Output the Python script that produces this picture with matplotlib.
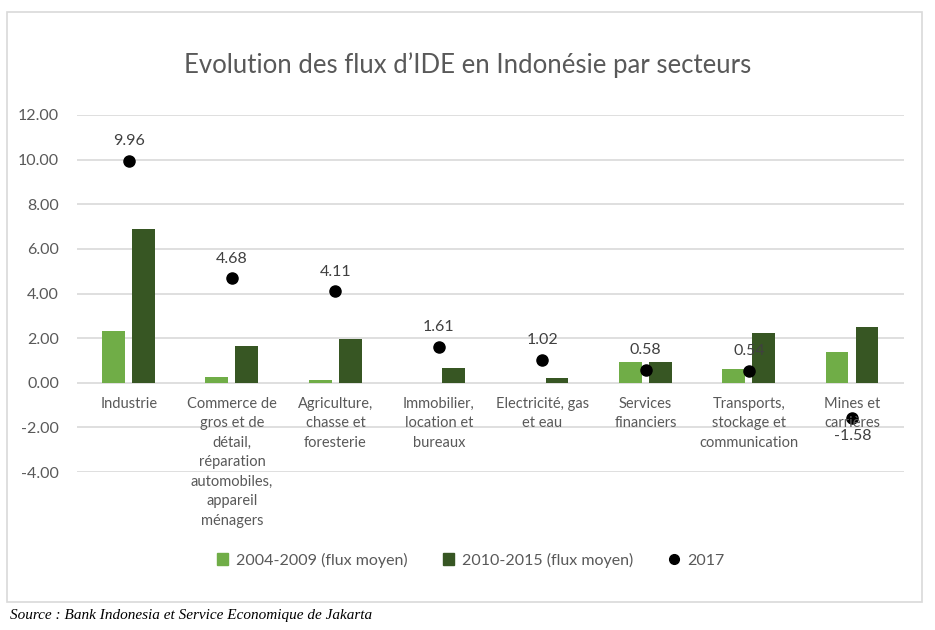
import matplotlib.pyplot as plt
import numpy as np
from matplotlib.lines import Line2D
from matplotlib.patches import Patch, Rectangle

# données
secteurs = ["Industrie",
            "Commerce de\ngros et de\ndétail,\nréparation\nautomobiles,\nappareil\nménagers",
            "Agriculture,\nchasse et\nforesterie",
            "Immobilier,\nlocation et\nbureaux",
            "Electricité, gas\net eau",
            "Services\nfinanciers",
            "Transports,\nstockage et\ncommunication",
            "Mines et\ncarrières"]
flux_2004_2009 = [2.34, 0.25, 0.11, 0.0, 0.0, 0.91, 0.63, 1.39]
flux_2010_2015 = [6.91, 1.65, 1.94, 0.66, 0.21, 0.94, 2.25, 2.52]
flux_2017 = [9.96, 4.68, 4.11, 1.61, 1.02, 0.58, 0.54, -1.58]
yticks = [-4, -2, 0, 2, 4, 6, 8, 10, 12]

clair = "#70AD47"
fonce = "#375623"
gris = "#595959"
police = ["Lato", "DejaVu Sans"]

fig = plt.figure(figsize=(9.35, 6.3), dpi=100)
# cadre du graphique
fig.patches.append(Rectangle((7 / 935, 1 - 602 / 630), 915 / 935, 590 / 630,
                             transform=fig.transFigure, fill=False,
                             edgecolor="#D9D9D9", linewidth=1.2))

ax = fig.add_axes([77 / 935, 1 - 472 / 630, 827 / 935, 357 / 630])
x = np.arange(len(secteurs))
w = 0.22
ax.bar(x - 0.147, flux_2004_2009, w, color=clair, linewidth=0, zorder=2)
ax.bar(x + 0.143, flux_2010_2015, w, color=fonce, linewidth=0, zorder=2)
ax.plot(x, flux_2017, "o", color="black", markersize=8, zorder=3)

for i, v in enumerate(flux_2017):
    if v < 0:
        ax.annotate(f"{v:.2f}", (i, v), xytext=(0, -8), textcoords="offset points",
                    ha="center", va="top", fontsize=11.5, color="#404040", family=police, zorder=4)
    else:
        ax.annotate(f"{v:.2f}", (i, v), xytext=(0, 9), textcoords="offset points",
                    ha="center", va="bottom", fontsize=11.5, color="#404040", family=police, zorder=4)

# étiquettes des secteurs sous la ligne zéro
for i, nom in enumerate(secteurs):
    ax.annotate(nom, (i, 0), xytext=(0, -10), textcoords="offset points",
                ha="center", va="top", fontsize=10.5, color=gris, family=police,
                linespacing=1.5)

ax.set_xlim(-0.5, len(secteurs) - 0.5)
ax.set_ylim(-4, 12)
ax.set_yticks(yticks)
ax.set_yticklabels([f"{t:.2f}" for t in yticks], fontsize=11.5, color=gris, family=police)
ax.grid(axis="y", color="#D9D9D9", linewidth=1.2, zorder=0)
ax.set_axisbelow(True)
ax.set_xticks([])
for s in ["top", "right", "left", "bottom"]:
    ax.spines[s].set_visible(False)
ax.tick_params(length=0)
ax.tick_params(axis="y", pad=13)

fig.text(0.5, 1 - 65 / 630, "Evolution des flux d\u2019IDE en Indonésie par secteurs",
         ha="center", va="center", fontsize=18.5, color=gris, family=police)

handles = [Patch(color=clair), Patch(color=fonce),
           Line2D([], [], marker="o", color="black", linestyle="none", markersize=7)]
fig.legend(handles, ["2004-2009 (flux moyen)", "2010-2015 (flux moyen)", "2017"],
           loc="center", bbox_to_anchor=(471 / 935, 1 - 560 / 630), ncol=3, frameon=False,
           prop={"family": police, "size": 11.5}, labelcolor=gris,
           handlelength=0.7, handleheight=0.7, handletextpad=0.5, columnspacing=2.2)

fig.text(10 / 935, 1 - 615 / 630, "Source : Bank Indonesia et Service Economique de Jakarta",
         ha="left", va="center", fontsize=11, style="italic", family="Liberation Serif")

fig.savefig("out.png", dpi=100)
